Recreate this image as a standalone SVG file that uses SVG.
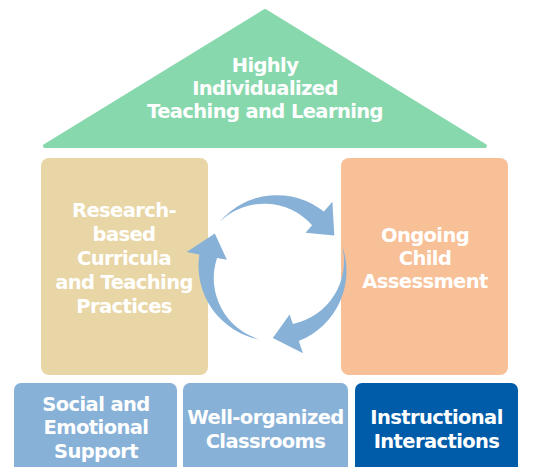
<svg xmlns="http://www.w3.org/2000/svg" xmlns:xlink="http://www.w3.org/1999/xlink" width="541" height="467" viewBox="0 0 541 467">
<style>
  .t { font-family: "DejaVu Sans", "Liberation Sans", sans-serif; font-weight: bold; font-size: 19.5px; letter-spacing: -0.6px; fill: #ffffff; text-anchor: middle; }
  .arrow { fill: #87B1D7; }
</style>
<defs>
  <path id="cyc" d="M 219.7 221.8 A 75 75 0 0 1 323.9 211.6 L 332.4 201.8 L 334.3 235.5 L 305.5 232.8 L 312.1 225.2 A 64 64 0 0 0 219.7 221.8 Z"/>
</defs>
<rect width="541" height="467" fill="#ffffff"/>

<g id="roof">
  <polygon points="265,11 45,146 485,146" fill="#88D8AE" stroke="#88D8AE" stroke-width="4" stroke-linejoin="round"/>
  <text class="t" x="265" y="72">Highly</text>
  <text class="t" x="265" y="95">Individualized</text>
  <text class="t" x="265" y="118">Teaching and Learning</text>
</g>

<g id="curricula">
  <rect x="41" y="158" width="167" height="217" rx="8" fill="#E8D6A6"/>
  <text class="t" x="124" y="217">Research-</text>
  <text class="t" x="124" y="241">based</text>
  <text class="t" x="124" y="265">Curricula</text>
  <text class="t" x="124" y="289">and Teaching</text>
  <text class="t" x="124" y="313">Practices</text>
</g>

<g id="assessment">
  <rect x="341" y="158" width="167" height="217" rx="8" fill="#F8C097"/>
  <text class="t" x="425" y="242">Ongoing</text>
  <text class="t" x="425" y="265">Child</text>
  <text class="t" x="425" y="288">Assessment</text>
</g>

<g id="connectors">
  <use xlink:href="#cyc" href="#cyc" class="arrow"/>
  <use xlink:href="#cyc" href="#cyc" class="arrow" transform="rotate(120 274 269)"/>
  <use xlink:href="#cyc" href="#cyc" class="arrow" transform="rotate(240 274 269)"/>
</g>

<g id="social">
  <rect x="14" y="383" width="163" height="100" rx="7" fill="#87B1D7"/>
  <text class="t" x="96" y="411">Social and</text>
  <text class="t" x="96" y="434">Emotional</text>
  <text class="t" x="96" y="458">Support</text>
</g>

<g id="organized">
  <rect x="183" y="383" width="165" height="100" rx="7" fill="#87B1D7"/>
  <text class="t" x="265.5" y="424">Well-organized</text>
  <text class="t" x="265.5" y="448">Classrooms</text>
</g>

<g id="instructional">
  <rect x="355" y="383" width="163" height="100" rx="7" fill="#005CA9"/>
  <text class="t" x="436.5" y="424">Instructional</text>
  <text class="t" x="436.5" y="448">Interactions</text>
</g>
</svg>
